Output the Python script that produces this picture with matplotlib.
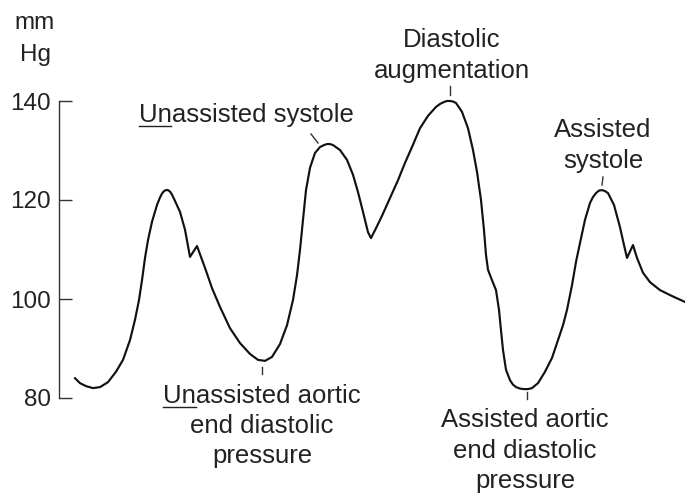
import matplotlib
matplotlib.use("Agg")
import matplotlib.pyplot as plt
from matplotlib.lines import Line2D

plt.rcParams['font.family'] = ['Liberation Sans', 'DejaVu Sans']

# ------------------------
# Data (time in arbitrary units, pressure in mm Hg)
# ------------------------
time = [16, 21, 27, 34, 41, 49, 57, 64, 71, 76, 80, 83, 86, 89, 93, 98, 101, 103, 105, 107,
        109, 111, 113, 116, 121, 126, 131, 138, 146, 153, 161, 171, 181, 191, 199, 206, 213,
        221, 228, 234, 238, 241, 244, 247, 251, 256, 261, 265, 268, 271, 274, 281, 288, 294,
        299, 304, 309, 312, 317, 323, 331, 339, 346, 353, 361, 369, 377, 381, 385, 388, 391,
        394, 397, 403, 409, 414, 418, 422, 425, 427, 429, 433, 437, 440, 442, 444, 447, 451,
        454, 457, 461, 465, 469, 473, 479, 486, 493, 499, 504, 508, 513, 517, 521, 526, 531,
        534, 537, 540, 543, 546, 549, 555, 561, 565, 568, 574, 578, 584, 591, 601, 613, 626]
pressure = [84.0, 83.0, 82.4, 82.0, 82.2, 83.2, 85.3, 87.7, 91.7, 95.8, 99.8, 103.8, 108.3,
            111.9, 115.6, 119.0, 120.5, 121.3, 121.8, 122.0, 122.0, 121.7, 121.1, 119.8,
            117.6, 114.0, 108.5, 110.7, 106.3, 102.2, 98.4, 94.1, 91.1, 88.9, 87.7, 87.5,
            88.3, 90.9, 94.7, 99.8, 104.8, 109.9, 116.0, 122.0, 126.5, 129.5, 130.7, 131.1,
            131.3, 131.3, 131.1, 130.1, 128.1, 125.1, 121.6, 117.6, 113.5, 112.3, 114.3,
            116.8, 120.4, 124.0, 127.5, 130.7, 134.5, 137.0, 138.8, 139.4, 139.8, 140.0,
            140.0, 139.9, 139.6, 137.8, 134.5, 130.1, 125.7, 120.0, 113.9, 108.9, 105.9,
            103.8, 101.8, 97.8, 93.7, 89.7, 85.7, 83.6, 82.7, 82.2, 81.9, 81.8, 81.8, 82.0,
            83.0, 85.3, 88.1, 91.7, 94.7, 97.8, 102.8, 107.5, 111.3, 116.0, 119.4, 120.6,
            121.4, 121.9, 122.0, 121.8, 121.4, 119.0, 114.5, 110.9, 108.3, 110.9, 108.3,
            105.3, 103.4, 101.8, 100.6, 99.4]

y_ticks = [80, 100, 120, 140]
unit_label = ["mm", "Hg"]

TEXT_COLOR = "#222222"
LINE_COLOR = "#111111"
W, H = 685, 495


def fx(px):
    return px / W


def fy(py):
    return 1 - py / H


fig = plt.figure(figsize=(6.85, 4.95), dpi=100)
ax = fig.add_axes([fx(59), fy(398), fx(626), fy(101) - fy(398)])
ax.plot(time, pressure, color=LINE_COLOR, lw=1.55, solid_joinstyle='round', clip_on=False)
ax.set_xlim(0, 626)
ax.set_ylim(80, 140)

for side in ["top", "right", "bottom"]:
    ax.spines[side].set_visible(False)
ax.spines["left"].set_color("#333333")
ax.spines["left"].set_linewidth(1.0)
ax.set_xticks([])
ax.set_yticks(y_ticks)
ax.tick_params(axis='y', direction='in', length=9, width=1.0, color="#333333",
               labelsize=17.5, labelcolor=TEXT_COLOR, pad=6)
ax.patch.set_visible(False)

# unit label
fig.text(fx(35), fy(29), unit_label[0], ha='center', va='baseline', fontsize=17.5, color=TEXT_COLOR)
fig.text(fx(35), fy(61), unit_label[1], ha='center', va='baseline', fontsize=17.5, color=TEXT_COLOR)

# annotations: (lines, centre x, first baseline, line step)
labels = [
    (["Diastolic", "augmentation"], 452, 47, 31),
    (["Unassisted systole"], 246, 122, 31),
    (["Assisted", "systole"], 603, 137, 31),
    (["Unassisted aortic", "end diastolic", "pressure"], 262, 403, 30),
    (["Assisted aortic", "end diastolic", "pressure"], 525, 427, 30.5),
]
texts = {}
for lines, cx, base, step in labels:
    for i, s in enumerate(lines):
        t = fig.text(fx(cx), fy(base + i * step), s, ha='center', va='baseline',
                     fontsize=18.5, color=TEXT_COLOR)
        texts[(s, cx)] = t

# small pointer marks to the trace
pointers = [((450, 86), (450, 95)),
            ((311, 134), (318, 143)),
            ((603, 177), (602, 185)),
            ((262, 367), (262, 374)),
            ((527, 392), (527, 399))]
for (x0, y0), (x1, y1) in pointers:
    fig.add_artist(Line2D([fx(x0), fx(x1)], [fy(y0), fy(y1)], transform=fig.transFigure,
                          color="#333333", lw=1.0))

# underline the "Un" of the unassisted labels
fig.canvas.draw()
renderer = fig.canvas.get_renderer()
for key in [("Unassisted systole", 246), ("Unassisted aortic", 262)]:
    t = texts[key]
    bb = t.get_window_extent(renderer)
    tmp = fig.text(0, 0, "Un", fontsize=18.5)
    wun = tmp.get_window_extent(renderer).width
    tmp.remove()
    base_px = t.get_transform().transform(t.get_position())[1]
    yu = base_px - 4
    fig.add_artist(Line2D([bb.x0 / W, (bb.x0 + wun) / W], [yu / H, yu / H],
                          transform=fig.transFigure, color=TEXT_COLOR, lw=1.0))

fig.savefig("out.png", dpi=100)
